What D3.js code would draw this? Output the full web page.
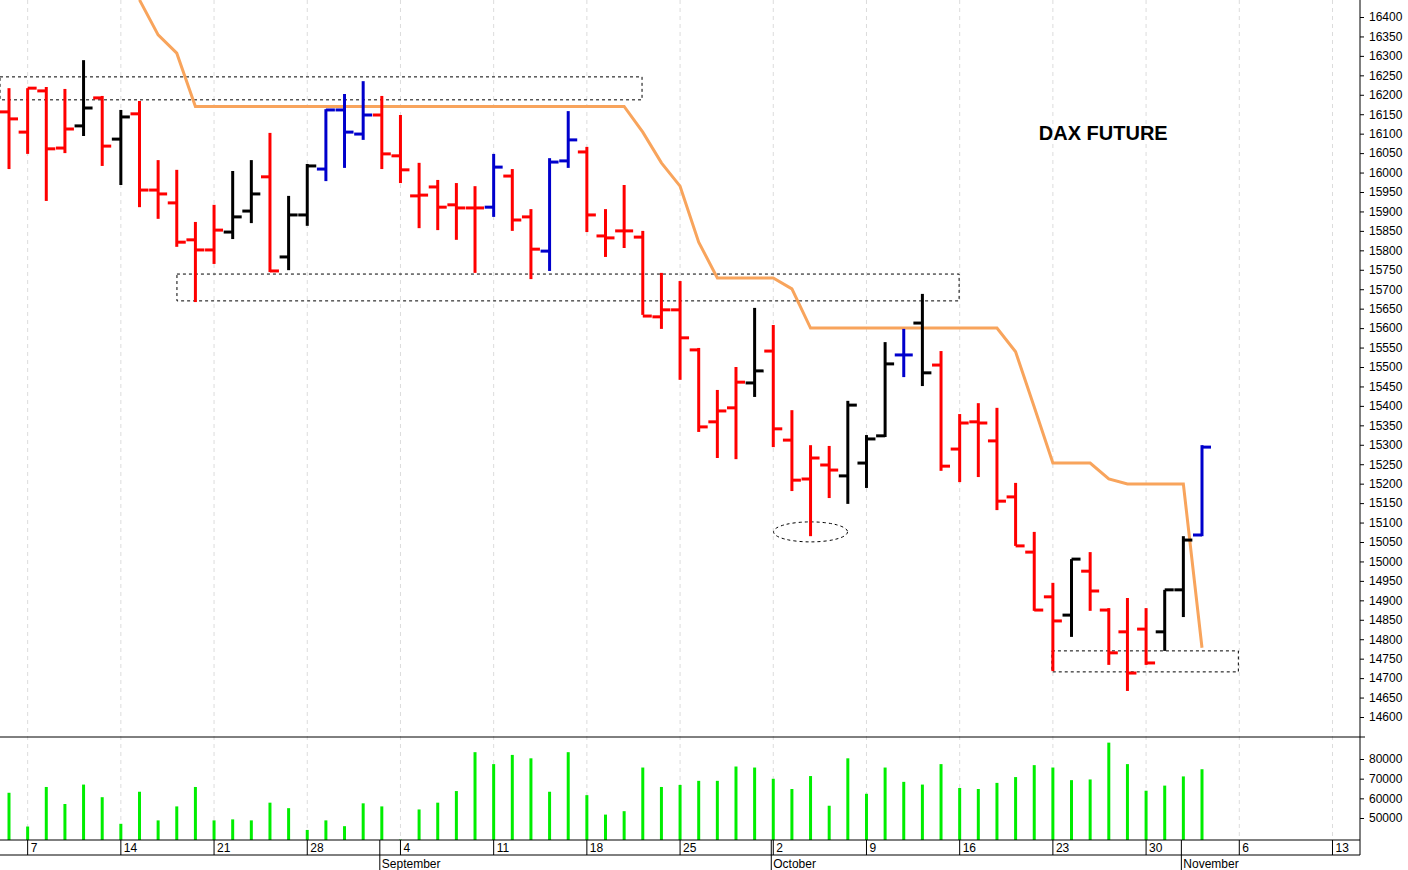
<!DOCTYPE html>
<html><head><meta charset="utf-8">
<script src="https://cdn.jsdelivr.net/npm/d3@7"></script>
<style>body{margin:0;background:#fff}svg{display:block;font-family:"Liberation Sans",Arial,sans-serif}</style>
</head><body><svg id="c" width="1408" height="870"></svg>
<script>
// OHLC per trading day, Aug 4 – Nov 2 (2023)
const opens  =[16156,16104,16210,16063,16120,16192,16086,16151,15955,15922,15827,15801,15847,15901,15989,15783,15891,16009,16161,16099,16148,16043,15940,15963,15917,15909,15911,15991,15886,15798,16030,16053,15837,15850,15834,15629,15647,15544,15359,15395,15459,15541,15312,15212,15248,15220,15253,15323,15531,15613,15505,15289,15359,15310,15166,15024,14909,14862,14975,14875,14819,14826,14819,14927,15068];
const highs  =[16217,16217,16220,16215,16289,16197,16161,16184,16032,16007,15873,15917,16004,16032,16102,15940,16022,16163,16202,16235,16197,16148,16025,15981,15973,15965,16048,16009,15906,16037,16158,16066,15906,15968,15850,15742,15721,15549,15441,15500,15652,15608,15389,15299,15297,15413,15325,15564,15598,15688,15541,15379,15407,15395,15202,15076,14945,15006,15024,14880,14906,14880,14927,15065,15299];
const lows   =[16009,16048,15927,16050,16094,16017,15968,15911,15881,15809,15667,15765,15829,15870,15744,15749,15863,15978,16012,16084,16009,15973,15857,15852,15827,15742,15886,15850,15726,15747,16012,15847,15783,15806,15634,15598,15467,15333,15266,15263,15423,15294,15181,15065,15163,15148,15189,15320,15474,15451,15233,15204,15217,15132,15040,14873,14718,14806,14873,14734,14667,14734,14770,14857,15065];
const closes =[16138,16217,16061,16112,16166,16068,16143,15955,15945,15821,15801,15852,15886,15945,15747,15891,16017,16161,16104,16148,16048,16007,15942,15911,15909,15909,16014,15878,15803,16027,16084,15891,15832,15850,15631,15647,15575,15346,15387,15461,15490,15341,15209,15266,15235,15402,15315,15508,15531,15485,15245,15356,15356,15155,15040,14875,14847,15006,14924,14765,14713,14739,14927,15055,15294];
const barColors="rrrrkrkrrrrrkkrkkbbbrrrrrrbrrbbrrrrrrrrrkrrrrkkkbkrrrrrrrkrrrrkkb".split("");
const volumes=[62830,45660,65780,57110,67000,60580,47050,63350,48790,55900,65780,48790,49300,48790,57800,55000,43930,48790,45840,57460,55900,39000,54340,57800,63700,83470,77400,82080,80350,63350,83470,61620,51730,53470,75660,65780,66820,68900,68900,76180,75660,69940,64740,71330,56240,80350,62310,75660,68380,67000,77400,65260,64740,67860,70810,76880,75660,69250,69600,88320,77400,63870,66470,71150,74800];
const trendIdx=[7,8,9,10,33,34,35,36,37,38,41,42,43,53,54,55,56,58,59,60,63,64];
const trendVal=[16444,16354,16307,16170,16170,16104,16025,15965,15821,15729,15729,15701,15600,15600,15539,15397,15253,15253,15212,15199,15199,14778];
const weekIdx=[1,6,11,16,21,26,31,36,41,46,51,56,61,66,71];
const weekLabels=["7","14","21","28","4","11","18","25","2","9","16","23","30","6","13"];
const monthIdx=[20,41,63];
const monthLabels=["September","October","November"];
const priceTicks=d3.range(14600,16401,50);
const volTicks=[50000,60000,70000,80000];
const zones=[[-1,33.96,16246,16187],[9.01,50.97,15739,15670],[55.95,65.95,14770,14716]];
const ellipse={i:43,v:15076};
const title="DAX FUTURE";

const svg=d3.select("#c");
const x=d3.scaleLinear().domain([0,64]).range([9,1202]);
const y=d3.scaleLinear().domain([14600,16400]).range([717,17]);
const yv=d3.scaleLinear().domain([50000,80000]).range([818,759]);
const cmap={r:"#ff0000",k:"#000000",b:"#0000cc"};
const R=1360;

svg.append("g").selectAll("line").data(weekIdx).join("line")
 .attr("x1",d=>x(d)).attr("x2",d=>x(d)).attr("y1",0).attr("y2",840)
 .attr("stroke","#dcdcdc").attr("stroke-dasharray","4,4");

svg.append("g").selectAll("rect").data(zones).join("rect")
 .attr("x",d=>Math.max(0,x(d[0]))).attr("width",d=>x(d[1])-Math.max(0,x(d[0])))
 .attr("y",d=>y(d[2])).attr("height",d=>y(d[3])-y(d[2]))
 .attr("fill","none").attr("stroke","#000").attr("stroke-dasharray","3,3").attr("stroke-width",1);
svg.append("ellipse").attr("cx",x(ellipse.i)).attr("cy",y(ellipse.v)).attr("rx",37).attr("ry",10)
 .attr("fill","none").attr("stroke","#000").attr("stroke-dasharray","3,3");

const pts=trendIdx.map((d,i)=>[x(d),y(trendVal[i])]);
svg.append("path").attr("d",d3.line()(pts)).attr("fill","none").attr("stroke","#f8a45c").attr("stroke-width",3);

const g=svg.append("g");
opens.forEach((o,i)=>{
  const c=cmap[barColors[i]], cx=x(i);
  g.append("line").attr("x1",cx).attr("x2",cx).attr("y1",y(highs[i])).attr("y2",y(lows[i])).attr("stroke",c).attr("stroke-width",3);
  g.append("line").attr("x1",cx-9).attr("x2",cx).attr("y1",y(o)).attr("y2",y(o)).attr("stroke",c).attr("stroke-width",3);
  g.append("line").attr("x1",cx).attr("x2",cx+9).attr("y1",y(closes[i])).attr("y2",y(closes[i])).attr("stroke",c).attr("stroke-width",3);
});

svg.append("text").attr("x",x(55)+69).attr("y",y(16100)+6).attr("text-anchor","middle")
 .attr("font-size",20).attr("font-weight","bold").text(title);

svg.append("g").selectAll("line").data(volumes).join("line")
 .attr("x1",(d,i)=>x(i)).attr("x2",(d,i)=>x(i)).attr("y1",840).attr("y2",d=>Math.min(840,yv(d)))
 .attr("stroke","#00ee00").attr("stroke-width",3);

svg.append("rect").attr("x",R).attr("y",0).attr("width",48).attr("height",870).attr("fill","#fff");
svg.append("line").attr("x1",R).attr("x2",R).attr("y1",0).attr("y2",855).attr("stroke","#000");
svg.append("line").attr("x1",0).attr("x2",1365).attr("y1",737).attr("y2",737).attr("stroke","#000");
svg.append("line").attr("x1",0).attr("x2",R).attr("y1",840).attr("y2",840).attr("stroke","#000");
svg.append("line").attr("x1",0).attr("x2",R).attr("y1",855).attr("y2",855).attr("stroke","#000");

const ay=svg.append("g").attr("transform",`translate(${R},0)`).call(d3.axisRight(y).tickValues(priceTicks).tickSize(4).tickFormat(d3.format("d")));
ay.select(".domain").remove();
ay.selectAll("text").attr("font-size",12).attr("x",9).attr("font-family","Liberation Sans Narrow, Liberation Sans, Arial").attr("fill","#000");
const av=svg.append("g").attr("transform",`translate(${R},0)`).call(d3.axisRight(yv).tickValues(volTicks).tickSize(4).tickFormat(d3.format("d")));
av.select(".domain").remove();
av.selectAll("text").attr("font-size",12).attr("x",9).attr("font-family","Liberation Sans Narrow, Liberation Sans, Arial").attr("fill","#000");

const wk=svg.append("g");
weekIdx.forEach((d,i)=>{
  wk.append("line").attr("x1",x(d)).attr("x2",x(d)).attr("y1",840).attr("y2",855).attr("stroke","#000");
  wk.append("text").attr("x",x(d)+3).attr("y",852).attr("font-size",12).attr("font-family","Liberation Sans Narrow, Liberation Sans, Arial").text(weekLabels[i]);
});
monthIdx.forEach((d,i)=>{
  wk.append("line").attr("x1",x(d)-2).attr("x2",x(d)-2).attr("y1",840).attr("y2",870).attr("stroke","#000");
  wk.append("text").attr("x",x(d)).attr("y",868).attr("font-size",12).attr("font-family","Liberation Sans Narrow, Liberation Sans, Arial").text(monthLabels[i]);
});
</script></body></html>
